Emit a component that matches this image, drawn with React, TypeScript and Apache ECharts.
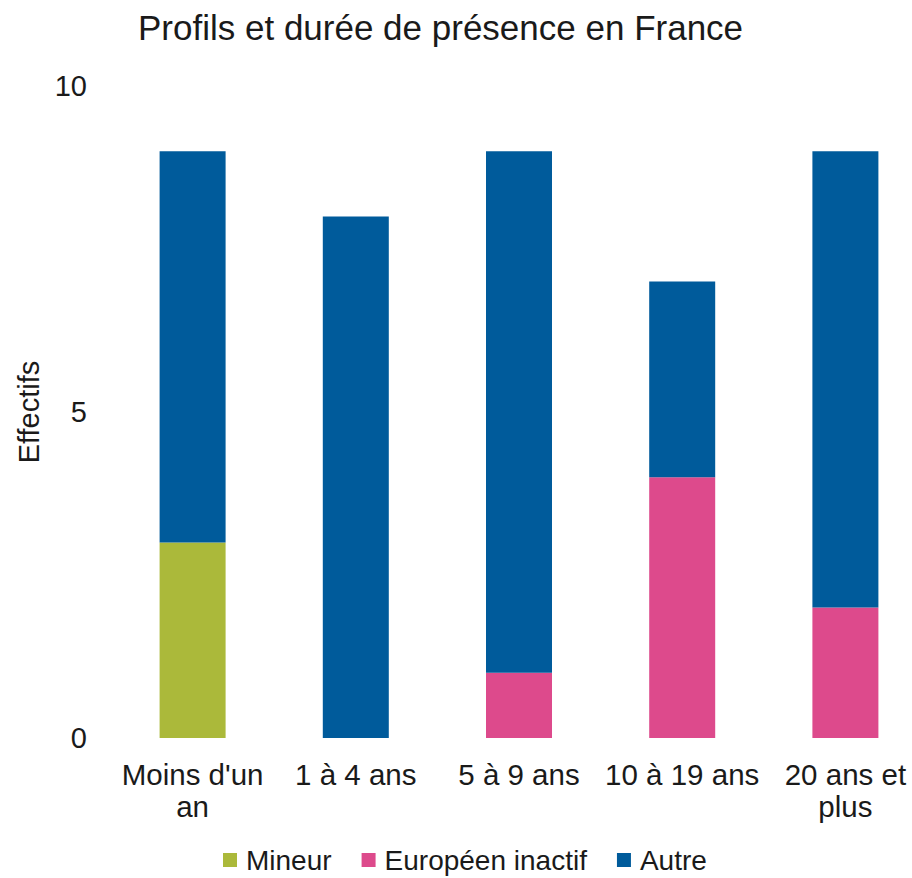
import React, { useEffect, useRef } from "react";
import * as echarts from "echarts";

const categories = ["Moins d'un\nan", "1 à 4 ans", "5 à 9 ans", "10 à 19 ans", "20 ans et\nplus"];
const mineur = [3, 0, 0, 0, 0];
const europeen = [0, 0, 1, 4, 2];
const autre = [6, 8, 8, 3, 7];
const seriesNames = ["Mineur", "Européen inactif", "Autre"];
const colors = ["#ABB93A", "#DD4A8C", "#005B9B"];

const FONT = "'Liberation Sans', Arial, sans-serif";

export default function App() {
  const ref = useRef<HTMLDivElement>(null);
  useEffect(() => {
    document.body.style.margin = "0";
    document.body.style.overflow = "hidden";
    const chart = echarts.init(ref.current!, undefined, { renderer: "svg" });
    const values = [mineur, europeen, autre];
    chart.setOption({
      animation: false,
      backgroundColor: "#ffffff",
      textStyle: { fontFamily: FONT },
      title: {
        text: "Profils et durée de présence en France",
        left: 133,
        top: 5,
        textStyle: { fontFamily: FONT, fontSize: 35, fontWeight: "normal", color: "#1a1a1a" },
      },
      legend: {
        data: seriesNames,
        left: 223,
        top: 845,
        padding: 0,
        itemWidth: 14,
        itemHeight: 14,
        itemGap: 30,
        icon: "rect",
        textStyle: {
          fontFamily: FONT,
          fontSize: 28,
          lineHeight: 30,
          color: "#1a1a1a",
          padding: [0, 0, 0, 4],
        },
      },
      grid: { left: 111, top: 86, width: 816, height: 652 },
      xAxis: {
        type: "category",
        data: categories,
        axisLine: { show: false },
        axisTick: { show: false },
        axisLabel: {
          interval: 0,
          margin: 20,
          fontFamily: FONT,
          fontSize: 29.5,
          lineHeight: 32,
          color: "#1a1a1a",
        },
      },
      yAxis: {
        type: "value",
        min: 0,
        max: 10,
        interval: 5,
        name: "Effectifs",
        nameLocation: "middle",
        nameGap: 65,
        nameRotate: 90,
        nameTextStyle: { fontFamily: FONT, fontSize: 29, color: "#1a1a1a" },
        axisLine: { show: false },
        axisTick: { show: false },
        splitLine: { show: false },
        axisLabel: { margin: 24, fontFamily: FONT, fontSize: 29, color: "#1a1a1a" },
      },
      series: seriesNames.map((name, i) => ({
        name,
        type: "bar",
        stack: "total",
        barWidth: 66,
        data: values[i],
        itemStyle: { color: colors[i] },
      })),
    });
    return () => chart.dispose();
  }, []);
  return <div ref={ref} style={{ width: 940, height: 878 }} />;
}
